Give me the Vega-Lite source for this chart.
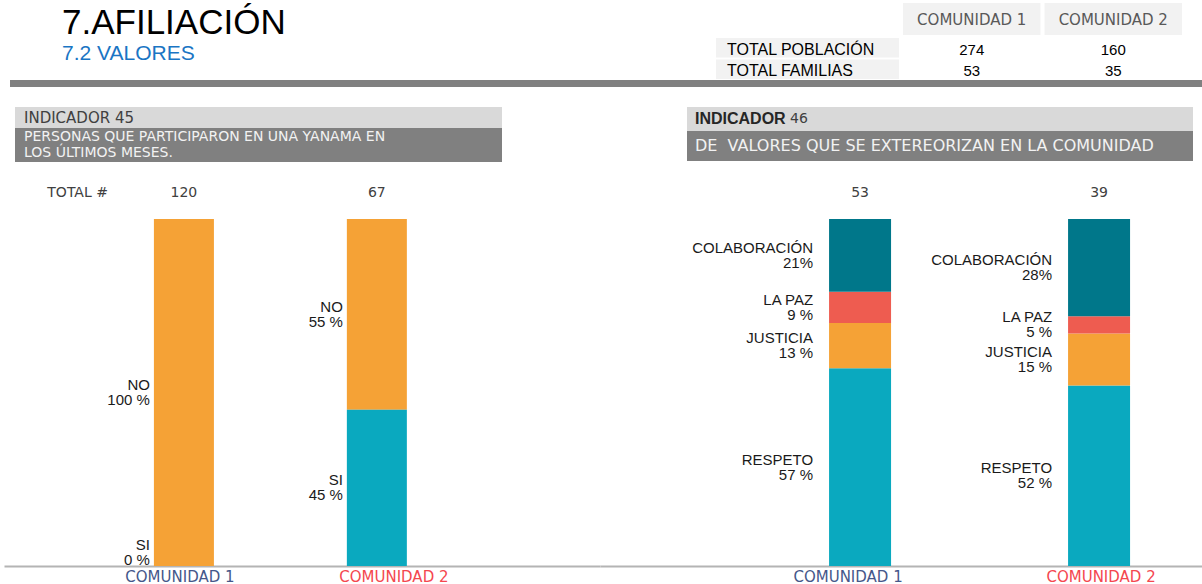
{
  "$schema": "https://vega.github.io/schema/vega-lite/v6.json",
  "background": "white",
  "padding": 0,
  "spacing": 0,
  "config": {"view": {"stroke": null}, "concat": {"spacing": 0}, "font": "Liberation Sans"},
  "datasets": {
    "tabla": [
      {"fila": "TOTAL POBLACIÓN", "comunidad": "COMUNIDAD 1", "valor": 274},
      {"fila": "TOTAL POBLACIÓN", "comunidad": "COMUNIDAD 2", "valor": 160},
      {"fila": "TOTAL FAMILIAS", "comunidad": "COMUNIDAD 1", "valor": 53},
      {"fila": "TOTAL FAMILIAS", "comunidad": "COMUNIDAD 2", "valor": 35}
    ],
    "totales": [
      {"indicador": "45", "comunidad": "COMUNIDAD 1", "total": 120},
      {"indicador": "45", "comunidad": "COMUNIDAD 2", "total": 67},
      {"indicador": "46", "comunidad": "COMUNIDAD 1", "total": 53},
      {"indicador": "46", "comunidad": "COMUNIDAD 2", "total": 39}
    ],
    "ind45": [
      {"comunidad": "COMUNIDAD 1", "respuesta": "NO", "pct": 100, "etiqueta": "100  %", "orden": 2},
      {"comunidad": "COMUNIDAD 1", "respuesta": "SI", "pct": 0, "etiqueta": "0 %", "orden": 1},
      {"comunidad": "COMUNIDAD 2", "respuesta": "NO", "pct": 55, "etiqueta": "55 %", "orden": 2},
      {"comunidad": "COMUNIDAD 2", "respuesta": "SI", "pct": 45, "etiqueta": "45 %", "orden": 1}
    ],
    "ind46": [
      {"comunidad": "COMUNIDAD 1", "respuesta": "RESPETO", "pct": 57, "etiqueta": "57 %", "orden": 1},
      {"comunidad": "COMUNIDAD 1", "respuesta": "JUSTICIA", "pct": 13, "etiqueta": "13 %", "orden": 2},
      {"comunidad": "COMUNIDAD 1", "respuesta": "LA PAZ", "pct": 9, "etiqueta": "9 %", "orden": 3},
      {"comunidad": "COMUNIDAD 1", "respuesta": "COLABORACIÓN", "pct": 21, "etiqueta": "21%", "orden": 4},
      {"comunidad": "COMUNIDAD 2", "respuesta": "RESPETO", "pct": 52, "etiqueta": "52 %", "orden": 1},
      {"comunidad": "COMUNIDAD 2", "respuesta": "JUSTICIA", "pct": 15, "etiqueta": "15 %", "orden": 2},
      {"comunidad": "COMUNIDAD 2", "respuesta": "LA PAZ", "pct": 5, "etiqueta": "5 %", "orden": 3},
      {"comunidad": "COMUNIDAD 2", "respuesta": "COLABORACIÓN", "pct": 28, "etiqueta": "28%", "orden": 4}
    ]
  },
  "vconcat": [
    {
      "spacing": 0,
      "hconcat": [
        {
          "width": 716, "height": 79,
          "data": {"values": []},
          "mark": "point",
          "title": {
            "text": "7.AFILIACIÓN", "subtitle": "7.2 VALORES",
            "anchor": "start", "frame": "group", "orient": "top",
            "dx": 62, "offset": -64,
            "font": "Liberation Sans", "fontSize": 35, "fontWeight": "normal", "color": "#000000",
            "subtitleFont": "Liberation Sans", "subtitleFontSize": 21, "subtitleColor": "#1a75c4",
            "subtitlePadding": 2.5
          }
        },
        {
          "spacing": 0,
          "vconcat": [
            {"width": 466, "height": 3, "data": {"values": []}, "mark": "point"},
            {
              "spacing": 4,
              "hconcat": [
                {"width": 183, "height": 32, "data": {"values": []}, "mark": "point"},
                {
                  "width": 279, "height": 32,
                  "data": {"name": "tabla"},
                  "transform": [{"filter": "datum.fila == 'TOTAL POBLACIÓN'"}],
                  "encoding": {
                    "x": {"field": "comunidad", "type": "nominal", "axis": null, "scale": {"type": "band", "paddingInner": 0.0287, "paddingOuter": 0}}
                  },
                  "layer": [
                    {"mark": {"type": "rect", "color": "#f2f2f2"}, "encoding": {"y": {"value": 0}, "y2": {"value": "height"}}},
                    {"mark": {"type": "text", "font": "DejaVu Sans", "fontSize": 15, "color": "#595959", "baseline": "middle", "dy": 1}, "encoding": {"text": {"field": "comunidad"}}}
                  ]
                }
              ]
            },
            {"width": 466, "height": 3, "data": {"values": []}, "mark": "point"},
            {
              "spacing": 4,
              "hconcat": [
                {
                  "width": 183, "height": 41,
                  "data": {"name": "tabla"},
                  "transform": [{"filter": "datum.comunidad == 'COMUNIDAD 1'"}],
                  "encoding": {
                    "y": {"field": "fila", "type": "nominal", "axis": null, "sort": null, "scale": {"type": "band", "paddingInner": 0.093, "paddingOuter": 0}}
                  },
                  "layer": [
                    {"mark": {"type": "rect", "color": "#f2f2f2"}, "encoding": {"x": {"value": 0}, "x2": {"value": "width"}}},
                    {"mark": {"type": "text", "align": "left", "baseline": "middle", "dx": 11, "dy": 2, "fontSize": 16, "color": "#000000"}, "encoding": {"x": {"value": 0}, "text": {"field": "fila"}}}
                  ]
                },
                {
                  "width": 279, "height": 41,
                  "data": {"name": "tabla"},
                  "mark": {"type": "text", "baseline": "middle", "dy": 2, "fontSize": 15, "color": "#000000"},
                  "encoding": {
                    "x": {"field": "comunidad", "type": "nominal", "axis": null, "scale": {"type": "band", "paddingInner": 0.0287, "paddingOuter": 0}},
                    "y": {"field": "fila", "type": "nominal", "axis": null, "sort": null, "scale": {"type": "band", "paddingInner": 0.093, "paddingOuter": 0}},
                    "text": {"field": "valor", "type": "quantitative"}
                  }
                }
              ]
            }
          ]
        }
      ]
    },
    {
      "spacing": 0,
      "hconcat": [
        {"width": 10, "height": 7, "data": {"values": []}, "mark": "point"},
        {"width": 1192, "height": 7, "view": {"fill": "#808080", "stroke": null}, "data": {"values": []}, "mark": "point"}
      ]
    },
    {"width": 1, "height": 20, "data": {"values": []}, "mark": "point"},
    {
      "spacing": 0,
      "hconcat": [
        {"width": 15, "height": 1, "data": {"values": []}, "mark": "point"},
        {
          "spacing": 0,
          "vconcat": [
            {
              "width": 487, "height": 21,
              "view": {"fill": "#d9d9d9", "stroke": null},
              "data": {"values": [{"t": "INDICADOR 45"}]},
              "mark": {"type": "text", "align": "left", "baseline": "middle", "dx": 9, "font": "DejaVu Sans", "fontSize": 15, "color": "#404040"},
              "encoding": {"x": {"value": 0}, "text": {"field": "t"}}
            },
            {
              "width": 487, "height": 34,
              "view": {"fill": "#808080", "stroke": null},
              "data": {"values": [{"t": "PERSONAS QUE PARTICIPARON EN UNA YANAMA EN\nLOS ÚLTIMOS MESES."}]},
              "mark": {"type": "text", "align": "left", "baseline": "middle", "dx": 9, "dy": -7.75, "lineBreak": "\n", "lineHeight": 15.5, "font": "DejaVu Sans", "fontSize": 14, "color": "#f2f2f2"},
              "encoding": {"x": {"value": 0}, "text": {"field": "t"}}
            }
          ]
        },
        {"width": 185, "height": 1, "data": {"values": []}, "mark": "point"},
        {
          "spacing": 0,
          "vconcat": [
            {
              "width": 506, "height": 24,
              "view": {"fill": "#d9d9d9", "stroke": null},
              "data": {"values": [{"a": "INDICADOR", "b": "46"}]},
              "layer": [
                {"mark": {"type": "text", "align": "left", "baseline": "middle", "dx": 8, "font": "Liberation Sans", "fontWeight": "bold", "fontSize": 16, "color": "#262626"}, "encoding": {"x": {"value": 0}, "text": {"field": "a"}}},
                {"mark": {"type": "text", "align": "left", "baseline": "middle", "dx": 103, "font": "DejaVu Sans", "fontSize": 14, "color": "#404040"}, "encoding": {"x": {"value": 0}, "text": {"field": "b"}}}
              ]
            },
            {
              "width": 506, "height": 30,
              "view": {"fill": "#808080", "stroke": null},
              "data": {"values": [{"t": "DE\u00a0 VALORES QUE SE EXTEREORIZAN EN LA COMUNIDAD"}]},
              "mark": {"type": "text", "align": "left", "baseline": "middle", "dx": 8, "font": "DejaVu Sans", "fontSize": 16, "color": "#f2f2f2"},
              "encoding": {"x": {"value": 0}, "text": {"field": "t"}}
            }
          ]
        }
      ]
    },
    {
      "spacing": 0,
      "hconcat": [
        {"width": 4, "height": 57, "data": {"values": []}, "mark": "point"},
        {
          "width": 596, "height": 57,
          "layer": [
            {
              "data": {"name": "totales"},
              "transform": [{"filter": "datum.indicador == '45'"}],
              "mark": {"type": "text", "baseline": "middle", "dy": 2, "font": "DejaVu Sans", "fontSize": 14, "color": "#404040"},
              "encoding": {
                "x": {"field": "comunidad", "type": "nominal", "axis": null, "scale": {"type": "band", "paddingInner": 0.689, "paddingOuter": 0.889, "align": 0.437}},
                "text": {"field": "total", "type": "quantitative"}
              }
            },
            {
              "data": {"values": [{"etiqueta": "TOTAL #", "comunidad": "COMUNIDAD 1"}]},
              "mark": {"type": "text", "align": "right", "baseline": "middle", "dy": 2, "dx": -76, "font": "DejaVu Sans", "fontSize": 14, "color": "#404040"},
              "encoding": {
                "x": {"field": "comunidad", "type": "nominal", "axis": null},
                "text": {"field": "etiqueta"}
              }
            }
          ]
        },
        {
          "width": 602, "height": 57,
          "data": {"name": "totales"},
          "transform": [{"filter": "datum.indicador == '46'"}],
          "mark": {"type": "text", "baseline": "middle", "dy": 2, "font": "DejaVu Sans", "fontSize": 14, "color": "#404040"},
          "encoding": {
            "x": {"field": "comunidad", "type": "nominal", "axis": null, "scale": {"type": "band", "paddingInner": 0.7406, "paddingOuter": 0.6297, "align": 0.761}},
            "text": {"field": "total", "type": "quantitative"}
          }
        }
      ]
    },
    {
      "spacing": 0,
      "resolve": {"scale": {"color": "independent"}},
      "hconcat": [
        {"width": 4, "height": 347, "data": {"values": []}, "mark": "point"},
        {
          "width": 596, "height": 347,
          "data": {"name": "ind45"},
          "transform": [
            {"stack": "pct", "groupby": ["comunidad"], "sort": [{"field": "orden", "order": "ascending"}], "as": ["y0", "y1"]},
            {"calculate": "max((datum.y0 + datum.y1) / 2, 4)", "as": "ymid"},
            {"calculate": "datum.respuesta + '\\n' + datum.etiqueta", "as": "texto"}
          ],
          "encoding": {
            "x": {
              "field": "comunidad", "type": "nominal",
              "scale": {"type": "band", "paddingInner": 0.689, "paddingOuter": 0.889, "align": 0.437},
              "axis": {
                "title": null, "orient": "bottom", "domain": true, "domainColor": "#b4b4b4", "domainWidth": 2,
                "ticks": false, "tickSize": 0, "labelPadding": 3, "labelAngle": 0,
                "labelFont": "DejaVu Sans", "labelFontSize": 15,
                "labelColor": {"condition": {"test": "datum.value == 'COMUNIDAD 1'", "value": "#45578a"}, "value": "#f4474f"},
                "labelOffset": {"condition": {"test": "datum.value == 'COMUNIDAD 2'", "value": 17}, "value": -4}
              }
            }
          },
          "layer": [
            {
              "mark": {"type": "bar"},
              "encoding": {
                "y": {"field": "y0", "type": "quantitative", "scale": {"domain": [0, 100], "nice": false}, "axis": null},
                "y2": {"field": "y1"},
                "color": {"field": "respuesta", "type": "nominal", "legend": null, "scale": {"domain": ["NO", "SI"], "range": ["#f5a236", "#0aa9bf"]}}
              }
            },
            {
              "mark": {"type": "text", "align": "right", "baseline": "middle", "dx": -34, "dy": -7.5, "lineBreak": "\n", "lineHeight": 15, "fontSize": 15, "color": "#1a1a1a"},
              "encoding": {
                "y": {"field": "ymid", "type": "quantitative", "scale": {"domain": [0, 100], "nice": false}, "axis": null},
                "text": {"field": "texto"}
              }
            }
          ]
        },
        {
          "width": 602, "height": 347,
          "data": {"name": "ind46"},
          "transform": [
            {"stack": "pct", "groupby": ["comunidad"], "sort": [{"field": "orden", "order": "ascending"}], "as": ["y0", "y1"]},
            {"calculate": "(datum.y0 + datum.y1) / 2", "as": "ymid"},
            {"calculate": "datum.respuesta + '\\n' + datum.etiqueta", "as": "texto"}
          ],
          "encoding": {
            "x": {
              "field": "comunidad", "type": "nominal",
              "scale": {"type": "band", "paddingInner": 0.7406, "paddingOuter": 0.6297, "align": 0.761},
              "axis": {
                "title": null, "orient": "bottom", "domain": true, "domainColor": "#b4b4b4", "domainWidth": 2,
                "ticks": false, "tickSize": 0, "labelPadding": 3, "labelAngle": 0,
                "labelFont": "DejaVu Sans", "labelFontSize": 15,
                "labelColor": {"condition": {"test": "datum.value == 'COMUNIDAD 1'", "value": "#45578a"}, "value": "#f4474f"},
                "labelOffset": {"condition": {"test": "datum.value == 'COMUNIDAD 1'", "value": -12}, "value": 2}
              }
            }
          },
          "layer": [
            {
              "mark": {"type": "bar"},
              "encoding": {
                "y": {"field": "y0", "type": "quantitative", "scale": {"domain": [0, 100], "nice": false}, "axis": null},
                "y2": {"field": "y1"},
                "color": {"field": "respuesta", "type": "nominal", "legend": null, "scale": {"domain": ["COLABORACIÓN", "LA PAZ", "JUSTICIA", "RESPETO"], "range": ["#00778a", "#ee5c50", "#f5a236", "#0aa9bf"]}}
              }
            },
            {
              "mark": {"type": "text", "align": "right", "baseline": "middle", "dx": -47, "dy": -7.5, "lineBreak": "\n", "lineHeight": 15, "fontSize": 15, "color": "#1a1a1a"},
              "encoding": {
                "y": {"field": "ymid", "type": "quantitative", "scale": {"domain": [0, 100], "nice": false}, "axis": null},
                "text": {"field": "texto"}
              }
            }
          ]
        }
      ]
    }
  ]
}
